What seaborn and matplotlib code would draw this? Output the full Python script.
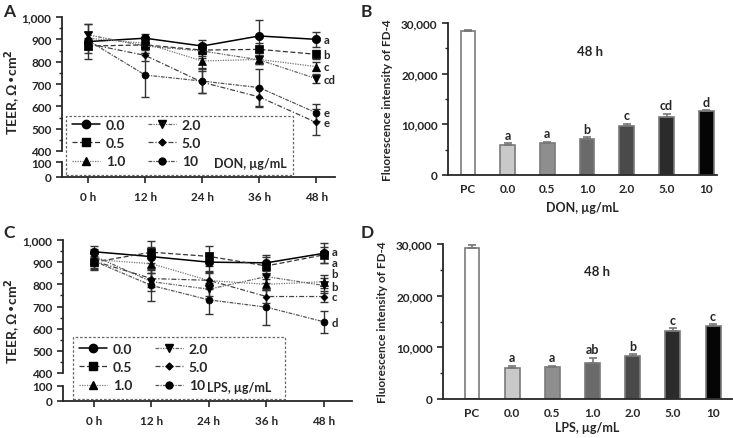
import numpy as np
import matplotlib
matplotlib.use("Agg")
import matplotlib.pyplot as plt
import seaborn as sns
from matplotlib.lines import Line2D
from matplotlib.patches import Rectangle
from matplotlib.ticker import FuncFormatter, MultipleLocator

sns.set_style("ticks")
plt.rcParams.update({
    "font.size": 8.5,
    "font.weight": "bold",
    "axes.labelweight": "bold",
    "axes.linewidth": 1.3,
    "xtick.major.width": 1.2,
    "ytick.major.width": 1.2,
    "ytick.minor.width": 1.0,
    "xtick.major.size": 4,
    "ytick.major.size": 4,
    "ytick.minor.size": 2.5,
    "xtick.labelsize": 8.5,
    "ytick.labelsize": 8.5,
})
plt.rcParams["font.family"] = ["Lato", "DejaVu Sans"]

# --- data ---
time_labels = ["0 h", "12 h", "24 h", "36 h", "48 h"]
dose_labels = ["0.0", "0.5", "1.0", "2.0", "5.0", "10"]

# A: TEER under DON
don_00 = [890, 905, 870, 915, 900]
don_05 = [870, 875, 852, 855, 833]
don_10 = [905, 882, 803, 810, 778]
don_20 = [920, 870, 848, 808, 724]
don_50 = [880, 828, 708, 642, 528]
don_100 = [895, 740, 713, 684, 571]
don_00_sd = [80, 20, 25, 70, 35]
don_05_sd = [30, 20, 25, 30, 20]
don_10_sd = [30, 25, 30, 20, 20]
don_20_sd = [50, 30, 30, 20, 20]
don_50_sd = [25, 25, 50, 40, 58]
don_100_sd = [40, 97, 55, 85, 38]
don_letters = ["a", "b", "c", "cd", "e", "e"]
don_letter_y = [900, 833, 778, 722, 571, 527]

# C: TEER under LPS
lps_00 = [947, 925, 900, 897, 940]
lps_05 = [900, 945, 926, 883, 933]
lps_10 = [912, 893, 817, 800, 812]
lps_20 = [928, 812, 778, 835, 795]
lps_50 = [905, 826, 818, 745, 745]
lps_100 = [905, 795, 730, 697, 631]
lps_00_sd = [25, 45, 40, 35, 45]
lps_05_sd = [30, 50, 45, 40, 35]
lps_10_sd = [30, 40, 40, 25, 30]
lps_20_sd = [30, 40, 30, 30, 35]
lps_50_sd = [30, 40, 35, 30, 25]
lps_100_sd = [40, 72, 62, 82, 50]
lps_letters = ["a", "a", "b", "b", "c", "d"]
lps_letter_y = [948, 900, 850, 790, 745, 630]

# B / D: FD-4 fluorescence at 48 h
bar_labels = ["PC", "0.0", "0.5", "1.0", "2.0", "5.0", "10"]
don_fd4 = [28350, 5920, 6380, 7100, 9600, 11380, 12570]
don_fd4_sd = [350, 380, 200, 330, 470, 660, 190]
don_fd4_letters = ["", "a", "a", "b", "c", "cd", "d"]
lps_fd4 = [29160, 6060, 6130, 7030, 8390, 13200, 14200]
lps_fd4_sd = [640, 390, 320, 970, 260, 480, 250]
lps_fd4_letters = ["", "a", "a", "ab", "b", "c", "c"]

bar_colors = ["#ffffff", "#c9c9c9", "#8e8e8e", "#6a6a6a", "#4a4a4a", "#2b2b2b", "#050505"]

SERIES_STYLE = [
    dict(marker="o", markersize=6, linestyle="-", color="black", linewidth=1.1),
    dict(marker="s", markersize=5.5, linestyle=(0, (4, 2)), color="#333333", linewidth=0.9),
    dict(marker="^", markersize=5.5, linestyle=(0, (1, 1)), color="#777777", linewidth=0.9),
    dict(marker="v", markersize=5.5, linestyle=(0, (3, 1, 1, 1, 1, 1)), color="#666666", linewidth=0.9),
    dict(marker="D", markersize=3.5, linestyle=(0, (4, 1.5, 1, 1.5)), color="#444444", linewidth=0.9),
    dict(marker="o", markersize=5, linestyle=(0, (3, 1, 1, 1)), color="#555555", linewidth=0.9),
]

W, H = 733, 439
fig = plt.figure(figsize=(W / 100, H / 100), dpi=100)


def frac(x0, y0, x1, y1):
    # pixel box (top-left origin) -> figure fraction rect
    return [x0 / W, 1 - y1 / H, (x1 - x0) / W, (y1 - y0) / H]


thousands = FuncFormatter(lambda v, p: f"{v:,.0f}")


def teer_panel(box_top, box_bot, xlim, means, sds, letters, letter_y,
               legend_anchor, legend_box, unit_text, unit_xy):
    ax = fig.add_axes(frac(*box_top))
    axb = fig.add_axes(frac(*box_bot))
    xpos = np.arange(len(time_labels))

    for m, s, st in zip(means, sds, SERIES_STYLE):
        ax.errorbar(xpos, m, yerr=s, fmt="none", ecolor="#333333",
                    elinewidth=1.0, capsize=3, capthick=1.0, zorder=2)
        sns.lineplot(x=xpos, y=m, ax=ax, errorbar=None, sort=False,
                     markerfacecolor="black", markeredgecolor="black",
                     markeredgewidth=0.5, zorder=3, **st)

    for lt, ly in zip(letters, letter_y):
        ax.text(xpos[-1] + 0.13, ly, lt, ha="left", va="center", fontsize=8.2)

    ax.set_xlim(*xlim)
    ax.set_ylim(400, 1000)
    ax.yaxis.set_major_locator(MultipleLocator(100))
    ax.yaxis.set_minor_locator(MultipleLocator(50))
    ax.yaxis.set_major_formatter(thousands)
    ax.set_xticks([])
    for side in ["top", "right", "bottom"]:
        ax.spines[side].set_visible(False)
    ax.patch.set_alpha(0)

    axb.set_xlim(*xlim)
    axb.set_ylim(0, 100)
    axb.set_yticks([0, 100])
    axb.set_xticks(xpos)
    axb.set_xticklabels(time_labels)
    axb.tick_params(axis="x", pad=6)
    for side in ["top", "right"]:
        axb.spines[side].set_visible(False)
    axb.patch.set_alpha(0)

    handles = [Line2D([], [], markerfacecolor="black", markeredgecolor="black", **st)
               for st in SERIES_STYLE]
    fig.legend(handles, dose_labels, ncol=2, loc="upper left",
               bbox_to_anchor=legend_anchor, frameon=False, borderpad=0,
               borderaxespad=0, handlelength=2.0, handletextpad=0.45,
               columnspacing=1.6, labelspacing=0.45, fontsize=10)
    x0, y0, x1, y1 = legend_box
    fig.patches.append(Rectangle((x0 / W, 1 - y1 / H), (x1 - x0) / W, (y1 - y0) / H,
                                 transform=fig.transFigure, fill=False,
                                 edgecolor="#666666", linewidth=0.9,
                                 linestyle=(0, (2, 1.5)), zorder=5))
    fig.text(unit_xy[0] / W, 1 - unit_xy[1] / H, unit_text, ha="left",
             va="center", fontsize=9)


def fd4_panel(box, xlim, vals, sds, letters, xlabel, h_xy, xpad):
    ax = fig.add_axes(frac(*box))
    sns.barplot(x=bar_labels, y=vals, hue=bar_labels, palette=bar_colors,
                legend=False, errorbar=None, width=0.37, edgecolor="#7a7a7a",
                linewidth=1.2, ax=ax)
    centers = [p.get_x() + p.get_width() / 2 for p in ax.patches]
    ax.errorbar(centers, vals, yerr=[np.zeros(len(vals)), sds], fmt="none",
                ecolor="#777777", elinewidth=1.2, capsize=3, capthick=1.2)
    for c, v, s, lt in zip(centers, vals, sds, letters):
        if lt:
            ax.text(c, v + s + 500, lt, ha="center", va="bottom", fontsize=9)
    ax.set_xlim(*xlim)
    ax.set_ylim(0, 30000)
    ax.yaxis.set_major_locator(MultipleLocator(10000))
    ax.yaxis.set_minor_locator(MultipleLocator(5000))
    ax.yaxis.set_major_formatter(thousands)
    ax.tick_params(axis="x", length=0, pad=6)
    ax.set_xlabel(xlabel, fontsize=9, labelpad=xpad)
    ax.set_ylabel("Fluorescence intensity of FD-4", fontsize=8.5, labelpad=6)
    sns.despine(ax=ax)
    fig.text(h_xy[0] / W, 1 - h_xy[1] / H, "48 h", ha="center", va="center",
             fontsize=9.5)


don_means = [don_00, don_05, don_10, don_20, don_50, don_100]
don_sds = [don_00_sd, don_05_sd, don_10_sd, don_20_sd, don_50_sd, don_100_sd]
lps_means = [lps_00, lps_05, lps_10, lps_20, lps_50, lps_100]
lps_sds = [lps_00_sd, lps_05_sd, lps_10_sd, lps_20_sd, lps_50_sd, lps_100_sd]

teer_panel((62, 18, 335, 152), (62, 163, 335, 178), (-0.46, 4.33),
           don_means, don_sds, don_letters, don_letter_y,
           (72 / W, 1 - 120 / H), (66, 117, 293, 176), "DON, µg/mL", (214, 164))
teer_panel((63, 241, 352, 374), (63, 387, 352, 402), (-0.54, 4.49),
           lps_means, lps_sds, lps_letters, lps_letter_y,
           (79 / W, 1 - 344 / H), (73, 338, 285, 400), "LPS, µg/mL", (207, 388))

fd4_panel((448, 24, 717, 176), (-0.5, 6.27), don_fd4, don_fd4_sd,
          don_fd4_letters, "DON, µg/mL", (590, 52), 5)
fd4_panel((443, 245, 732, 400), (-0.72, 6.47), lps_fd4, lps_fd4_sd,
          lps_fd4_letters, "LPS, µg/mL", (597, 272), 2)

for lab, (px, py) in zip("ABCD", [(3, 4), (361, 4), (3, 225), (361, 225)]):
    fig.text(px / W, 1 - py / H, lab, ha="left", va="top", fontsize=12.5)

for cy in (92, 321):
    fig.text(13 / W, 1 - cy / H, "TEER, Ω•cm$^\\mathbf{2}$", rotation=90,
             ha="center", va="center", fontsize=10)

fig.savefig("out.png", dpi=100)
